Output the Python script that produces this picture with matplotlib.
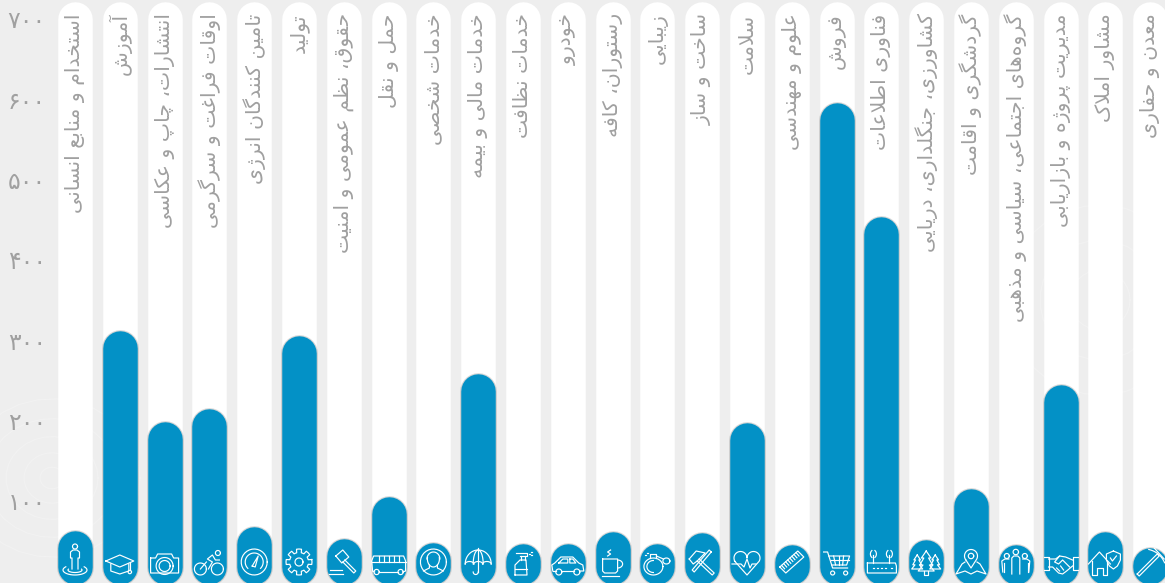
import numpy as np
import matplotlib
matplotlib.use('Agg')
import matplotlib.pyplot as plt
from matplotlib.transforms import Affine2D

# داده‌ها
categories = ['استخدام و منابع انسانی', 'آموزش', 'انتشارات، چاپ و عکاسی', 'اوقات فراغت و سرگرمی',
              'تامین کنندگان انرژی', 'تولید', 'حقوق، نظم عمومی و امنیت', 'حمل و نقل', 'خدمات شخصی',
              'خدمات مالی و بیمه', 'خدمات نظافت', 'خودرو', 'رستوران، کافه', 'زیبایی', 'ساخت و ساز',
              'سلامت', 'علوم و مهندسی', 'فروش', 'فناوری اطلاعات', 'کشاورزی، جنگلداری، دریایی',
              'گردشگری و اقامت', 'گروه‌های اجتماعی، سیاسی و مذهبی', 'مدیریت پروژه و بازاریابی',
              'مشاور املاک', 'معدن و حفاری']
values = [63, 312, 198, 214, 67, 305, 52, 105, 48, 258, 46, 46, 61, 47, 60,
          197, 45, 596, 453, 51, 115, 45, 244, 61, 42]
y_ticks = [100, 200, 300, 400, 500, 600, 700]
track_top = 721
track_bottom = -4

W, H = 1165, 583
BLUE = '#0391c6'
GRAY = '#a0a0a0'

# شکل حروف: (تنها، پایانی، آغازی، میانی)
FORMS = {'ا': (0xFE8D, 0xFE8E), 'آ': (0xFE81, 0xFE82), 'ب': (0xFE8F, 0xFE90, 0xFE91, 0xFE92),
         'پ': (0xFB56, 0xFB57, 0xFB58, 0xFB59), 'ت': (0xFE95, 0xFE96, 0xFE97, 0xFE98),
         'ث': (0xFE99, 0xFE9A, 0xFE9B, 0xFE9C), 'ج': (0xFE9D, 0xFE9E, 0xFE9F, 0xFEA0),
         'چ': (0xFB7A, 0xFB7B, 0xFB7C, 0xFB7D), 'ح': (0xFEA1, 0xFEA2, 0xFEA3, 0xFEA4),
         'خ': (0xFEA5, 0xFEA6, 0xFEA7, 0xFEA8), 'د': (0xFEA9, 0xFEAA), 'ذ': (0xFEAB, 0xFEAC),
         'ر': (0xFEAD, 0xFEAE), 'ز': (0xFEAF, 0xFEB0), 'ژ': (0xFB8A, 0xFB8B),
         'س': (0xFEB1, 0xFEB2, 0xFEB3, 0xFEB4), 'ش': (0xFEB5, 0xFEB6, 0xFEB7, 0xFEB8),
         'ص': (0xFEB9, 0xFEBA, 0xFEBB, 0xFEBC), 'ض': (0xFEBD, 0xFEBE, 0xFEBF, 0xFEC0),
         'ط': (0xFEC1, 0xFEC2, 0xFEC3, 0xFEC4), 'ظ': (0xFEC5, 0xFEC6, 0xFEC7, 0xFEC8),
         'ع': (0xFEC9, 0xFECA, 0xFECB, 0xFECC), 'غ': (0xFECD, 0xFECE, 0xFECF, 0xFED0),
         'ف': (0xFED1, 0xFED2, 0xFED3, 0xFED4), 'ق': (0xFED5, 0xFED6, 0xFED7, 0xFED8),
         'ک': (0xFB8E, 0xFB8F, 0xFB90, 0xFB91), 'گ': (0xFB92, 0xFB93, 0xFB94, 0xFB95),
         'ل': (0xFEDD, 0xFEDE, 0xFEDF, 0xFEE0), 'م': (0xFEE1, 0xFEE2, 0xFEE3, 0xFEE4),
         'ن': (0xFEE5, 0xFEE6, 0xFEE7, 0xFEE8), 'و': (0xFEED, 0xFEEE),
         'ه': (0xFEE9, 0xFEEA, 0xFEEB, 0xFEEC), 'ی': (0xFBFC, 0xFBFD, 0xFBFE, 0xFBFF)}
LAM_ALEF = {'ا': (0xFEFB, 0xFEFC), 'آ': (0xFEF5, 0xFEF6)}


def shape(text):
    # matplotlib حروف فارسی را نمی‌چسباند، پس خودمان شکل حروف را می‌سازیم
    out = []
    joined = False
    k = 0
    while k < len(text):
        c = text[k]
        if c not in FORMS:
            if c != '\u200c':
                out.append(c)
            joined = False
            k += 1
            continue
        nxt = text[k + 1] if k + 1 < len(text) else ''
        if c == 'ل' and nxt in LAM_ALEF:
            out.append(chr(LAM_ALEF[nxt][1 if joined else 0]))
            joined = False
            k += 2
            continue
        f = FORMS[c]
        can_next = len(f) == 4 and nxt in FORMS
        if joined and can_next:
            out.append(chr(f[3]))
        elif joined:
            out.append(chr(f[1]))
        elif can_next:
            out.append(chr(f[2]))
        else:
            out.append(chr(f[0]))
        joined = can_next
        k += 1
    return ''.join(out[::-1])


def arc(x, y, rx, ry, a0=0, a1=360, n=30):
    t = np.radians(np.linspace(a0, a1, n))
    return list(zip(x + rx * np.cos(t), y + ry * np.sin(t)))


def circ(x, y, r):
    return arc(x, y, r, r)


def tree(x, top, w, h):
    return [(x, top), (x - w * 0.6, top + h * 0.35), (x - w * 0.3, top + h * 0.35), (x - w * 0.8, top + h * 0.7),
            (x - w * 0.4, top + h * 0.7), (x - w, top + h), (x + w, top + h), (x + w * 0.4, top + h * 0.7),
            (x + w * 0.8, top + h * 0.7), (x + w * 0.3, top + h * 0.35), (x + w * 0.6, top + h * 0.35), (x, top)]


gear = []
for a in np.arange(0, 360, 45):
    gear += arc(0, -1, 13, 13, a - 11, a + 11, 3) + arc(0, -1, 9.5, 9.5, a + 14, a + 31, 3)
gear.append(gear[0])

ruler_ticks = []
for t in np.linspace(0.1, 0.9, 8):
    p = np.array([-12, 4]) + t * np.array([18, -16])
    ruler_ticks.append([tuple(p), tuple(p + np.array([3, 3.4]))])

# آیکون‌ها: نقطه‌ها بر حسب پیکسل نسبت به مرکز آیکون
icons = [
    [circ(0, -16.5, 2.5), [(-3, 6), (-3, -5), (-4.5, -5), (-4.5, -11), (-2, -13), (2, -13), (4.5, -11), (4.5, -5), (3, -5), (3, 6)],
     arc(0, 7, 12, 5, -40, 220), arc(0, 7, 7, 2.5, -20, 200)],
    [[(-14, -2), (0, -8), (14, -2), (0, 4), (-14, -2)], [(-9, 1), (-9, 8), (0, 11), (9, 8), (9, 1)], [(10, 0), (10, 7)], circ(10, 9, 1.7)],
    [[(-14, -5), (-9, -5), (-7, -9), (7, -9), (9, -5), (14, -5), (14, 10), (-14, 10), (-14, -5)], circ(0, 3, 8.5), circ(0, 3, 5.5)],
    [circ(-9, 6, 6), circ(8, 6, 6), circ(8.5, -10, 2.5), [(-1, 6), (3, -1), (-2, -4), (3, -8), (6, -3), (10, -3)], [(-9, 6), (-3, -1)]],
    [circ(0, -1, 13), arc(0, -1, 9, 9, 135, 405), [(-2, 3), (4, -7), (1, 4), (-2, 3)]],
    [gear, circ(0, -1, 4)],
    [[(-8, -7), (-1, -13), (5, -6), (-2, 0), (-8, -7)], [(1, -3), (12, 8), (10, 10), (-1, -1)], [(-14, 7), (-2, 7)], [(-15, 11), (-1, 11)]],
    [[(-16, 8), (-17, -2), (-15, -7), (15, -7), (17, -2), (17, 8), (14, 9)], [(-17, -1), (17, -1)], [(-9, 9), (9, 9)], [(-14, 9), (-16, 8)],
     circ(-12, 9, 2.6), circ(12, 9, 2.6), [(-10, -7), (-10, -1)], [(-5, -7), (-5, -1)], [(0, -7), (0, -1)], [(5, -7), (5, -1)], [(10, -7), (10, -1)]],
    [circ(0, -1, 13), arc(0, -4, 6, 8, -10, 190), arc(0, -4, 6.5, 7, 180, 360), [(-10, 8), (-4, 5), (-4, 2)], [(10, 8), (4, 5), (4, 2)]],
    [arc(0, 1, 13, 14, 180, 360), arc(-8.7, 1, 4.3, 2.5, 180, 360), arc(0, 1, 4.4, 2.5, 180, 360), arc(8.7, 1, 4.3, 2.5, 180, 360),
     arc(0, 1, 5, 14, 180, 360), [(0, -15), (0, 9)], arc(-2.5, 9, 2.5, 2.5, 0, 180)],
    [[(-7, -10), (4, -10), (4, -7), (-3, -7)], [(-2, -7), (-2, -3)], [(2, -7), (2, -3)], [(-8, 12), (-8, 2), (-3, -3), (3, -3), (4, 12), (-8, 12)],
     [(-8, 6), (4, 6)], [(6, -9), (7, -9)], [(8, -11), (9, -11)], [(8, -8), (9, -8)]],
    [[(-15, 8), (-16, 2), (-13, 0), (-7, -6), (5, -6), (11, 0), (15, 2), (16, 8), (12, 8)], [(-6, 8), (6, 8)], [(-12, 8), (-15, 8)],
     [(-9, 0), (-5, -4), (0, -4), (0, 0), (-9, 0)], [(2, -4), (5, -4), (8, 0), (2, 0), (2, -4)], circ(-9, 9, 3), circ(9, 9, 3)],
    [[(-10, -4), (5, -4), (5, 8), (3, 10), (-8, 10), (-10, 8), (-10, -4)], arc(5, 1, 5, 4, -90, 90), [(-11, 13), (6, 13)],
     [(-5, -7), (-2, -9), (-5, -11), (-2, -13)]],
    [arc(-4, 3.5, 9.5, 8.5), [(-7, -5), (-7, -9), (-1, -9), (-1, -5)], arc(-4, 3.5, 6.5, 6, 90, 270), [(-1, -7), (6, -4)], arc(9, -2, 3.5, 3),
     [(-12, -8), (-11, -8)], [(-10, -10), (-9, -10)]],
    [[(-13, -4), (-6, -12), (3, -10), (-1, -6), (-5, -2), (-9, 1), (-13, -4)], [(9, -11), (-8, 9), (-10, 7), (7, -13), (9, -11)], [(-3, -4), (12, 10), (10, 12), (-5, -2)]],
    [arc(-6.5, -5, 6.5, 6.5, 150, 360) + arc(6.5, -5, 6.5, 6.5, 180, 390) + [(0, 12), (-12.5, -2)], [(-15, 1), (-6, 1), (-3, 4), (0, -4), (3, 5), (5, 1), (9, 1)]],
    [[(-12, 4), (6, -12), (12, -6), (-6, 10), (-12, 4)]] + ruler_ticks,
    [[(-13, -11), (-9, -11), (-4, 5), (11, 5)], [(-8, -7), (13, -7), (10, 2), (-5, 2)], [(-6, -3), (12, -3)], [(-3, -7), (-1, 2)], [(2, -7), (2, 2)],
     [(7, -7), (6, 2)], circ(-4, 10, 2), circ(9, 10, 2)],
    [[(-14, 0), (14, 0), (15, 3), (15, 10), (-14, 10), (-14, 0)], [(-8, 5), (-7, 5)], [(-4, 5), (-3, 5)], [(0, 5), (1, 5)], [(4, 5), (5, 5)], [(10, 5), (11, 5)],
     [(-8, 0), (-8, -8)], [(8, 0), (8, -8)], arc(-8, -9, 3, 4, 120, 240, 8), arc(-8, -9, 3, 4, -60, 60, 8), arc(8, -9, 3, 4, 120, 240, 8), arc(8, -9, 3, 4, -60, 60, 8)],
    [tree(0, -12, 8, 20), tree(-9, -8, 5.5, 14), tree(9, -8, 5.5, 14), [(-2, 8), (-2, 12), (2, 12), (2, 8)]],
    [arc(0, -7, 6.5, 6.5, 145, 395) + [(0, 5), (-5.3, -3.3)], circ(0, -7, 2.7), [(-6, -1), (-9, 1), (-15, 11), (-6, 8), (0, 11), (6, 8), (15, 11), (9, 1), (6, -1)]],
    [circ(-9, -7, 2.5), circ(0, -11, 2.7), circ(9, -7, 2.5), [(-4, 11), (-4, -5), (-2, -7), (2, -7), (4, -5), (4, 11)],
     [(-13, 9), (-14, -2), (-11, -4), (-7, -4)], [(13, 9), (14, -2), (11, -4), (7, -4)], [(-12, 0), (-12, 9)], [(12, 0), (12, 9)]],
    [[(-17, -6), (-12, -6), (-12, 7), (-17, 7)], [(17, -6), (12, -6), (12, 7), (17, 7)], [(-12, -4), (-5, -4), (-1, -7), (5, -6), (12, -3)],
     [(-12, 4), (-8, 4), (-2, 10), (2, 11), (6, 8), (12, 3)], [(-1, -7), (-6, -1), (-2, 1), (2, -3), (9, 4)], [(-4, 5), (-1, 8)], [(0, 3), (3, 7)]],
    [[(-17, 1), (-6, -11), (5, 1)], [(-13, -2), (-13, 12), (-8, 12), (-8, 5), (-2, 5), (-2, 12), (2, 12), (2, -2)],
     [(8, -12), (1, -9), (1, -3), (4, 3), (8, 6), (12, 3), (15, -3), (15, -9), (8, -12)], [(5, -5), (7, -2), (11, -7)]],
    [[(-13, 11), (7, -9), (9, -7), (-11, 13), (-13, 11)], arc(-6, 8, 22, 22, -78, -22, 10), [(4, -15), (14, -4)]],
]

fig = plt.figure(figsize=(W / 100, H / 100), dpi=100, facecolor='#eeeeee')
ax = fig.add_axes([0, 0, 1, 1], facecolor='#eeeeee')

# محورها طوری تنظیم شده که هر دسته 44.8 پیکسل و هر 100 واحد 80.3 پیکسل باشد
ax.set_xlim(-75 / 44.8, (W - 75) / 44.8)
ax.set_ylim((581 - H) / 0.803, 581 / 0.803)
for s in ax.spines.values():
    s.set_visible(False)
ax.set_xticks([])
ax.set_yticks(y_ticks)
digits = str.maketrans('0123456789', '۰۱۲۳۴۵۶۷۸۹')
ax.set_yticklabels([str(v).translate(digits) for v in y_ticks], fontsize=17, color=GRAY, family='DejaVu Sans')
ax.tick_params(axis='y', length=0, pad=-33)
for lab in ax.get_yticklabels():
    lab.set_zorder(5)

# طرح کم‌رنگ پس‌زمینه
bg = Affine2D().scale(1, -1).translate(0, H)
for r in [12, 28, 46, 66, 88]:
    ax.plot(*zip(*arc(52, 478, r, r * 0.9)), color='#f2f2f2', lw=0.8, transform=bg, zorder=0.5)
for r in [30, 60, 95]:
    ax.plot(*zip(*arc(1100, 300, r, r)), color='#f2f2f2', lw=0.8, transform=bg, zorder=0.5)

# پهنا برحسب پوینت و شعاع انتهای گرد برحسب واحد محور
lw = 34.5 * 0.72
r = 17.25 / 0.803
x = np.arange(len(categories))

for i, name in enumerate(categories):
    ax.plot([i, i], [track_bottom + r, track_top - r], color='white', lw=lw, solid_capstyle='round', zorder=1)
    ax.plot([i, i], [track_bottom + r, max(values[i] - r, track_bottom + r)], color='#8a8a8a', alpha=0.35,
            lw=lw + 1.6, solid_capstyle='round', zorder=2)
    ax.plot([i, i], [track_bottom + r, max(values[i] - r, track_bottom + r)], color=BLUE, lw=lw,
            solid_capstyle='round', zorder=3)
    ax.text(i, 707, shape(name), rotation=90, ha='center', va='top', fontsize=14.7, color=GRAY,
            family='DejaVu Sans', zorder=4)

# رسم آیکون‌ها داخل میله‌ها
for i, prims in enumerate(icons):
    cx = ax.transData.transform((i, 0))[0]
    tr = Affine2D().scale(1, -1).translate(cx, H - 563)
    for pts in prims:
        px, py = zip(*pts)
        ax.plot(px, py, color='white', lw=0.85, transform=tr, zorder=5, solid_joinstyle='round')

ax.set_xlim(-75 / 44.8, (W - 75) / 44.8)
ax.set_ylim((581 - H) / 0.803, 581 / 0.803)

fig.savefig('out.png', dpi=100, facecolor=fig.get_facecolor())
